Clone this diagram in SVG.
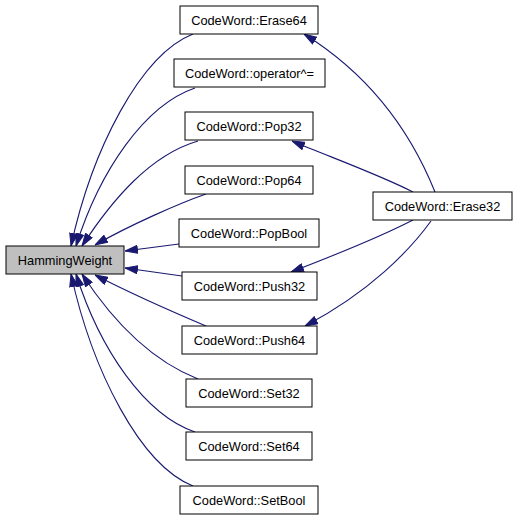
<svg xmlns="http://www.w3.org/2000/svg" width="517" height="520" viewBox="0 0 517 520">
<style>
.n rect{fill:#ffffff;stroke:#000000;stroke-width:1}
.n.hl rect{fill:#bfbfbf}
.n text{font-family:"Liberation Sans",Arial,sans-serif;font-size:12.8px;fill:#000000;text-anchor:middle}
.e path{fill:none;stroke:#191970;stroke-width:1.1}
</style>
<defs>
<marker id="ah" viewBox="0 0 13 9" refX="13" refY="4.5" markerWidth="13" markerHeight="9" markerUnits="userSpaceOnUse" orient="auto">
<path d="M0.5,0.5 L13,4.5 L0.5,8.5 Z" fill="#191970" stroke="#191970" stroke-width="1"/>
</marker>
</defs>
<rect width="517" height="520" fill="#ffffff"/>
<g id="connectors" class="e">
<path marker-end="url(#ah)" d="M193,34 C140,55 92,150 71,246"/>
<path marker-end="url(#ah)" d="M195,88 C145,105 100,170 76,246"/>
<path marker-end="url(#ah)" d="M198,141 C150,155 112,200 82,246"/>
<path marker-end="url(#ah)" d="M206,194 C180,203 130,225 95,245"/>
<path marker-end="url(#ah)" d="M179,244 L125,251"/>
<path marker-end="url(#ah)" d="M182,276 L125,268"/>
<path marker-end="url(#ah)" d="M206,326 C180,315 130,293 95,275"/>
<path marker-end="url(#ah)" d="M198,379 C150,360 112,320 82,274"/>
<path marker-end="url(#ah)" d="M195,432 C145,415 100,350 76,274"/>
<path marker-end="url(#ah)" d="M193,486 C140,465 92,370 71,274"/>
<path marker-end="url(#ah)" d="M435,192 C410,130 370,75 304,34"/>
<path marker-end="url(#ah)" d="M413,192 C380,175 330,157 292,141"/>
<path marker-end="url(#ah)" d="M413,220 C380,237 330,257 291,272"/>
<path marker-end="url(#ah)" d="M431,221 C410,250 370,292 305,326"/>
</g>
<g id="HammingWeight" class="n hl"><rect x="6" y="246" width="118" height="28"/><text x="65" y="264.5">HammingWeight</text></g>
<g id="Erase64" class="n"><rect x="180" y="6" width="138" height="28"/><text x="249" y="24.5">CodeWord::Erase64</text></g>
<g id="operatorXorEq" class="n"><rect x="174" y="59" width="151" height="28"/><text x="249.5" y="77.5">CodeWord::operator^=</text></g>
<g id="Pop32" class="n"><rect x="185" y="112" width="128" height="28"/><text x="249" y="130.5">CodeWord::Pop32</text></g>
<g id="Pop64" class="n"><rect x="185" y="166" width="128" height="28"/><text x="249" y="184.5">CodeWord::Pop64</text></g>
<g id="PopBool" class="n"><rect x="179" y="219" width="140" height="28"/><text x="249" y="237.5">CodeWord::PopBool</text></g>
<g id="Push32" class="n"><rect x="182" y="272" width="135" height="28"/><text x="249.5" y="290.5">CodeWord::Push32</text></g>
<g id="Push64" class="n"><rect x="182" y="326" width="135" height="28"/><text x="249.5" y="344.5">CodeWord::Push64</text></g>
<g id="Set32" class="n"><rect x="186" y="379" width="126" height="28"/><text x="249" y="397.5">CodeWord::Set32</text></g>
<g id="Set64" class="n"><rect x="186" y="432" width="126" height="28"/><text x="249" y="450.5">CodeWord::Set64</text></g>
<g id="SetBool" class="n"><rect x="180" y="486" width="138" height="28"/><text x="249" y="504.5">CodeWord::SetBool</text></g>
<g id="Erase32" class="n"><rect x="373" y="192" width="139" height="28"/><text x="442.5" y="210.5">CodeWord::Erase32</text></g>
</svg>
